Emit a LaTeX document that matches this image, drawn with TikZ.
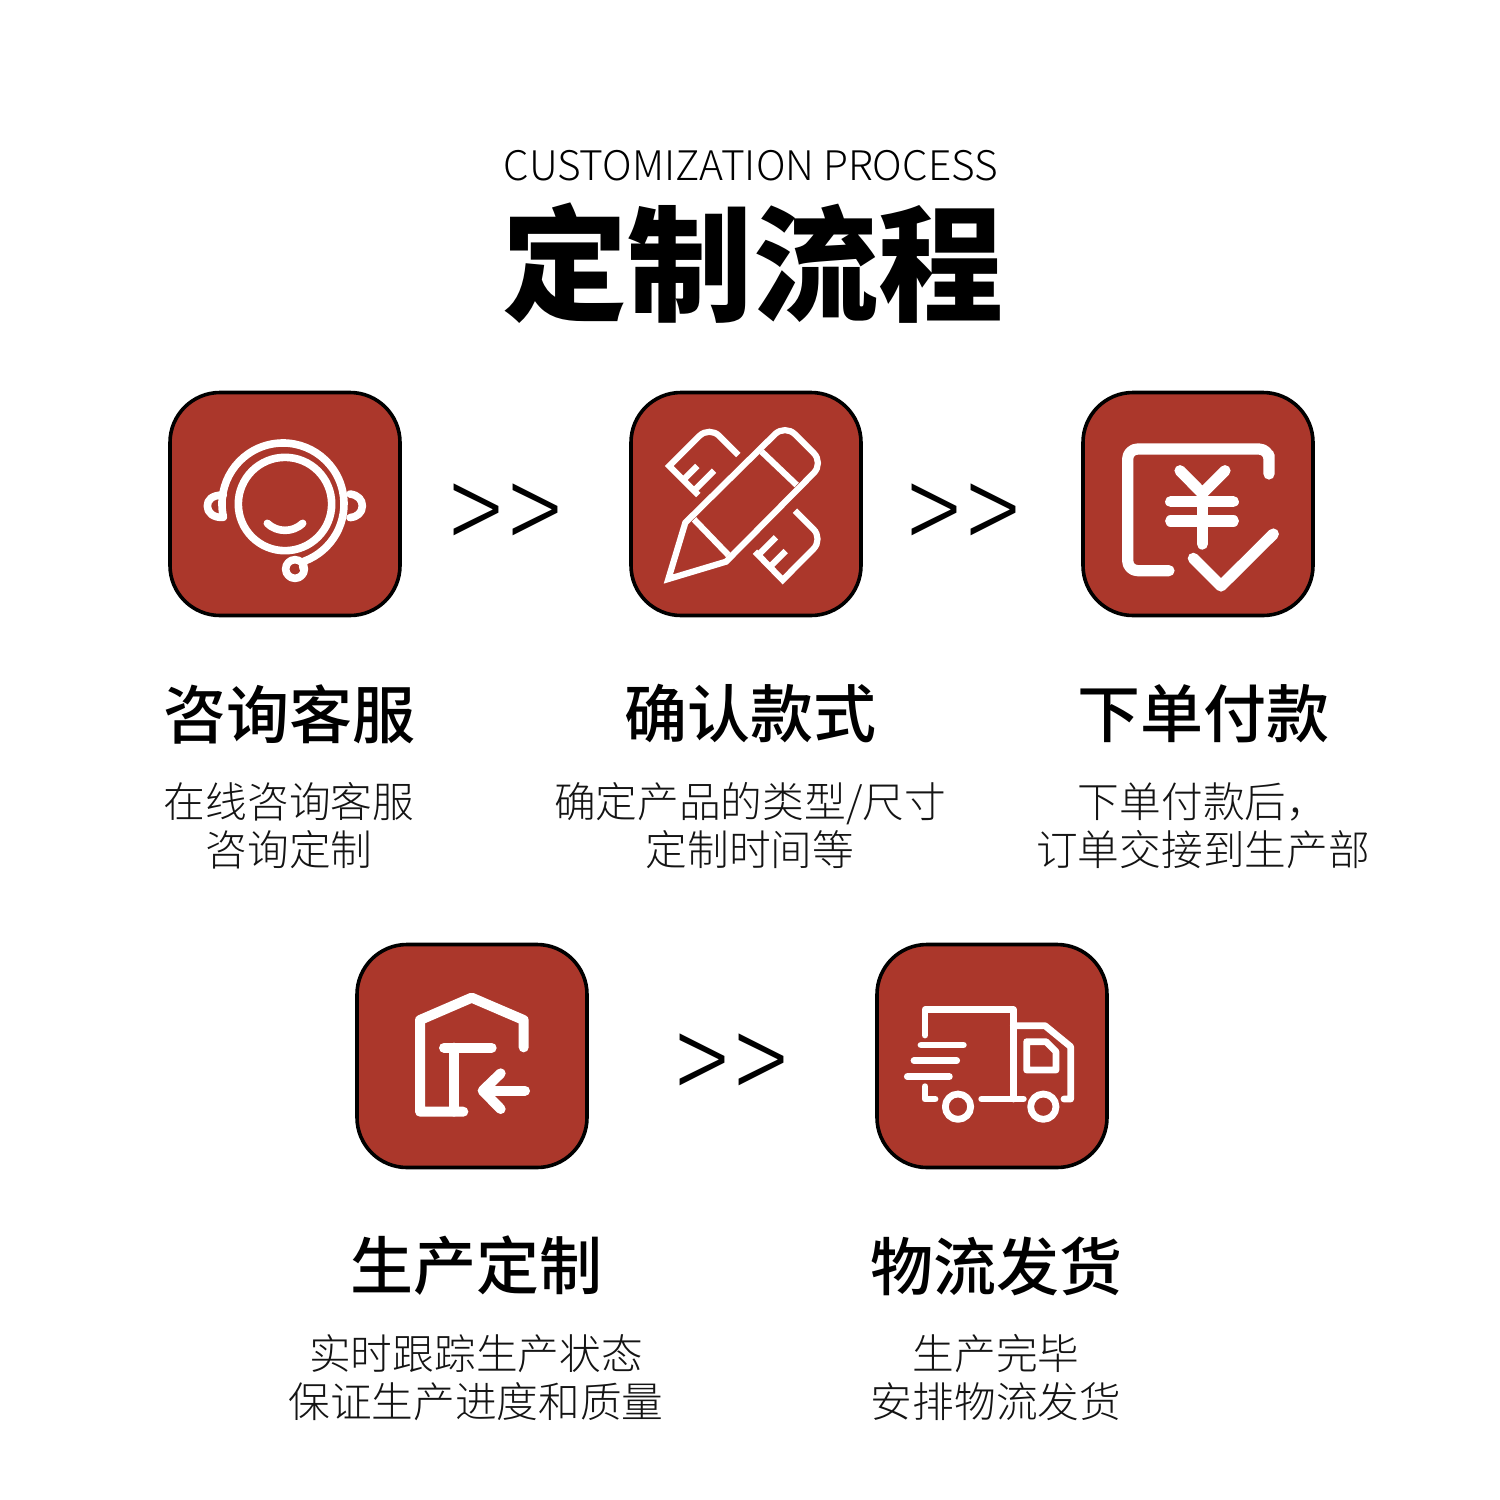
\documentclass[tikz,border=0pt]{standalone}
\usepackage{fontspec}
\setmainfont{Noto Sans CJK SC}
\newfontfamily\cjkblack{Noto Sans CJK SC Black}
\newfontfamily\cjklight{Noto Sans CJK SC Light}
\newfontfamily\cjkmedium{Noto Sans CJK SC Medium}
\definecolor{brick}{HTML}{AB372B}
\tikzset{
  tile/.style={draw=black,fill=brick,line width=1.8pt,rounded corners=25pt,minimum width=115pt,minimum height=111.5pt,inner sep=0pt},
  headtext/.style={font=\cjkmedium\fontsize{31.5}{36}\selectfont,text=black,inner sep=0pt},
  bodytext/.style={font=\cjklight\fontsize{20.85}{24}\selectfont,align=center,text=black!92,inner sep=0pt},
  chevrons/.style={font=\cjklight\fontsize{54}{54}\selectfont,inner sep=0pt,xscale=0.9,yscale=1.15,transform shape},
  icon/.style={draw=white,line cap=round,line join=round},
  zoomed/.style={x=0.1666667pt,y=-0.1666667pt},
}
\begin{document}
\begin{tikzpicture}[x=0.5pt,y=-0.5pt]
\useasboundingbox (0,0) rectangle (1500,1500);
\fill[white] (0,0) rectangle (1500,1500);
\node[font=\cjklight\fontsize{20.35}{24}\selectfont,inner sep=0pt] (sub) at (751,166) {CUSTOMIZATION PROCESS};
\node[font=\cjkblack\fontsize{62.6}{70}\selectfont,inner sep=0pt] (title) at (753,263.5) {定制流程};

\node[tile] (t1) at (285,504) {};
\node[tile] (t2) at (746,504) {};
\node[tile] (t3) at (1198,504) {};
\node[tile] (t4) at (472,1056) {};
\node[tile] (t5) at (992,1056) {};

\node[chevrons] (a1) at (506,520) {>\kern4pt>};
\node[chevrons] (a2) at (964,520) {>\kern4pt>};
\node[chevrons] (a3) at (732,1070) {>\kern4pt>};

\node[headtext] (h1) at (289,714) {咨询客服};
\node[headtext] (h2) at (750,714) {确认款式};
\node[headtext] (h3) at (1203,714) {下单付款};
\node[headtext] (h4) at (476,1266) {生产定制};
\node[headtext] (h5) at (996,1266) {物流发货};

\node[bodytext] (b1) at (289,826) {在线咨询客服\\咨询定制};
\node[bodytext] (b2) at (750,826) {确定产品的类型/尺寸\\定制时间等};
\node[bodytext] (b3) at (1203,826) {下单付款后，\\订单交接到生产部};
\node[bodytext] (b4) at (476,1378) {实时跟踪生产状态\\保证生产进度和质量};
\node[bodytext] (b5) at (996,1378) {生产完毕\\安排物流发货};

% headset
\begin{scope}[shift={(160,380)},zoomed,icon,line width=3.8pt]
\draw (375,372) circle[radius=140];
\draw (190,410) arc[start angle=168,end angle=430,radius=183] -- (428,562);
\draw (405,567) circle[radius=28];
\draw (190,345) .. controls (155,345) and (142,360) .. (142,378) .. controls (142,398) and (160,414) .. (190,412);
\draw (570,342) .. controls (595,345) and (607,360) .. (607,378) .. controls (607,398) and (590,412) .. (570,413);
\draw (322,430) .. controls (350,458) and (400,458) .. (428,430);
\end{scope}

% pencil and ruler
\begin{scope}[shift={(620,380)},zoomed,icon,line width=3.1pt,line cap=butt,line join=miter]
\draw (196,428) [rounded corners=7pt] -- (495,133) -- (611,249) [rounded corners=0pt] -- (318,545) -- (145,597) -- cycle;
\draw (425,215) -- (530,315);
\draw (222,418) -- (325,525);
\draw (355,225) [rounded corners=7pt] -- (268,138) [rounded corners=0pt] -- (148,258) -- (235,345);
\draw (190,300) -- (232,258);
\draw (222,332) -- (282,272);
\draw (525,392) [rounded corners=7pt] -- (610,477) [rounded corners=0pt] -- (488,600) -- (405,515);
\draw (415,525) -- (468,472);
\draw (450,560) -- (497,513);
\end{scope}

% yen and check
\begin{scope}[shift={(1075,380)},zoomed,icon,line width=5.6pt]
\draw (582,282) -- (582,225) [rounded corners=5pt] -- (582,207) -- (158,207) -- (158,572) [rounded corners=0pt] -- (282,572);
\draw (315,272) -- (382,340) -- (450,272);
\draw (382,340) -- (382,492);
\draw (287,365) -- (475,365);
\draw (287,423) -- (475,423);
\draw (355,535) -- (438,618) -- (595,462);
\end{scope}

% warehouse
\begin{scope}[shift={(350,935)},zoomed,icon,line width=5pt]
\draw (521,337) -- (521,255) -- (365,188) -- (210,255) -- (210,530) -- (340,530);
\draw (282,338) -- (425,338);
\draw (312,338) -- (312,530);
\draw (525,467) -- (400,467);
\draw (452,415) -- (398,467) -- (452,522);
\end{scope}

% truck
\begin{scope}[shift={(870,935)},zoomed,icon,line width=3.4pt]
\draw (165,300) -- (165,224) -- (430,224) -- (430,492);
\draw (335,492) -- (460,492);
\draw (430,272) -- (525,272) -- (602,335) -- (602,492) -- (582,492);
\draw (470,320) -- (528,320) -- (558,350) -- (558,405) -- (470,405) -- cycle;
\draw (153,330) -- (280,330);
\draw (132,377) -- (260,377);
\draw (112,425) -- (238,425);
\draw (165,455) -- (165,492) -- (195,492);
\draw (264,515) circle[radius=38];
\draw (520,515) circle[radius=38];
\end{scope}
\end{tikzpicture}
\end{document}
